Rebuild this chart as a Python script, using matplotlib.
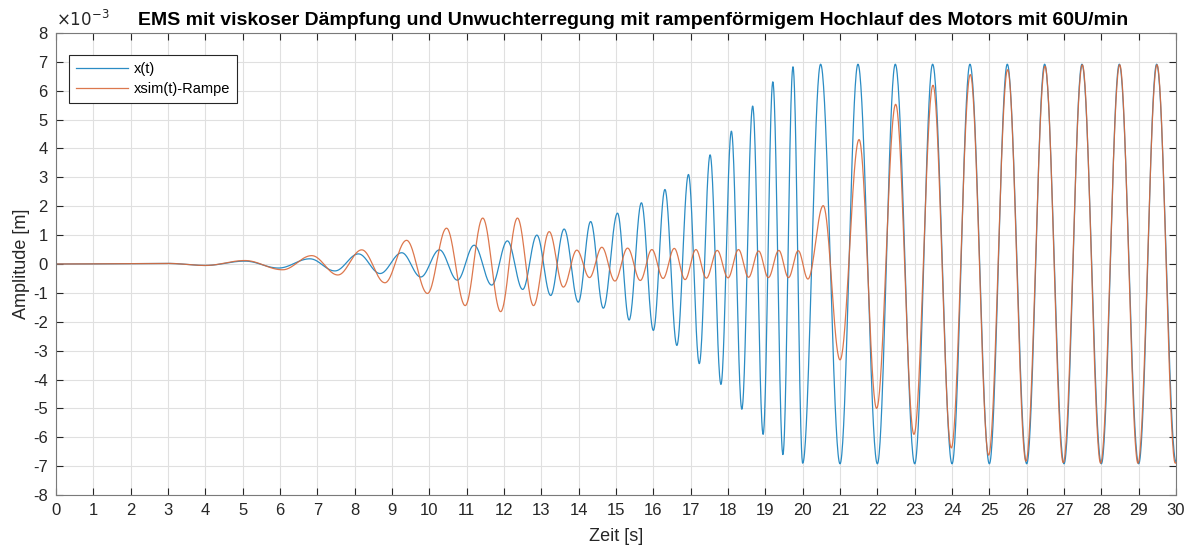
import matplotlib.pyplot as plt
import numpy as np

# extrema (time in s, amplitude in 1e-3 m)
t_x = [0, 3.0, 4.0, 5.06, 5.96, 6.8, 7.47, 8.1, 8.68, 9.26, 9.77, 10.27, 10.75, 11.2, 11.67,
       12.09, 12.5, 12.88, 13.25, 13.61, 13.99, 14.32, 14.66, 15.04, 15.35, 15.68, 16.0, 16.31,
       16.63, 16.94, 17.23, 17.52, 17.81, 18.09, 18.37, 18.66, 18.94, 19.2, 19.47, 19.74, 20.0,
       20.48, 21.0, 21.48, 22.0, 22.48, 23.0, 23.48, 24.0, 24.48, 25.0, 25.48, 26.0, 26.48,
       27.0, 27.48, 28.0, 28.48, 29.0, 29.48, 30.0]
x_vals = [0, 0.02, -0.05, 0.1, -0.14, 0.18, -0.24, 0.35, -0.33, 0.39, -0.45, 0.49, -0.56, 0.65,
          -0.73, 0.8, -0.88, 1.0, -1.09, 1.21, -1.32, 1.47, -1.53, 1.76, -1.94, 2.12, -2.3, 2.58,
          -2.82, 3.1, -3.45, 3.78, -4.17, 4.6, -5.03, 5.47, -5.9, 6.31, -6.6, 6.83, -6.9,
          6.92, -6.92, 6.92, -6.92, 6.92, -6.92, 6.92, -6.92, 6.92, -6.92, 6.92, -6.92, 6.92,
          -6.92, 6.92, -6.92, 6.92, -6.92, 6.92, -6.85]

t_sim = [0, 3.0, 4.0, 5.06, 6.07, 6.85, 7.55, 8.19, 8.81, 9.39, 9.95, 10.46, 10.96, 11.43, 11.91,
         12.36, 12.79, 13.21, 13.59, 13.95, 14.29, 14.62, 14.97, 15.31, 15.65, 15.96, 16.26,
         16.56, 16.85, 17.14, 17.42, 17.71, 18.0, 18.28, 18.55, 18.82, 19.08, 19.36, 19.62,
         19.88, 20.14, 20.55, 21.0, 21.51, 21.98, 22.49, 22.98, 23.49, 23.98, 24.49, 24.98,
         25.49, 25.98, 26.49, 26.98, 27.49, 27.98, 28.49, 28.98, 29.49, 29.98, 30.0]
sim_vals = [0, 0.02, -0.05, 0.12, -0.2, 0.29, -0.38, 0.49, -0.65, 0.82, -1.02, 1.24, -1.44, 1.59,
            -1.65, 1.59, -1.44, 1.12, -0.8, 0.48, -0.47, 0.58, -0.59, 0.55, -0.57, 0.5, -0.5,
            0.54, -0.54, 0.5, -0.49, 0.47, -0.48, 0.5, -0.46, 0.45, -0.47, 0.47, -0.47, 0.46,
            -0.52, 2.02, -3.32, 4.31, -5.0, 5.53, -5.9, 6.19, -6.37, 6.56, -6.62, 6.73, -6.83,
            6.85, -6.88, 6.9, -6.9, 6.9, -6.9, 6.9, -6.9, -6.88]

x_ticks = list(range(0, 31))
y_ticks = list(range(-8, 9))


def smooth(tk, vk, n=40):
    # half-cosine shape between neighbouring extrema
    ts, vs = [], []
    for i in range(len(tk) - 1):
        s = np.linspace(0, 1, n, endpoint=False)
        ts.append(tk[i] + (tk[i + 1] - tk[i]) * s)
        vs.append(vk[i] + (vk[i + 1] - vk[i]) * (1 - np.cos(np.pi * s)) / 2)
    ts.append([tk[-1]])
    vs.append([vk[-1]])
    return np.concatenate(ts), np.concatenate(vs) * 1e-3


plt.rcParams["font.family"] = ["Liberation Sans", "DejaVu Sans"]

fig = plt.figure(figsize=(11.89, 5.48), dpi=100)
ax = fig.add_axes([0.0471, 0.0967, 0.9420, 0.8431])

tx, yx = smooth(t_x, x_vals)
ts, ys = smooth(t_sim, sim_vals)
ax.plot(tx, yx, color="#2b8cc4", linewidth=0.9, label="x(t)")
ax.plot(ts, ys, color="#d9693a", linewidth=0.9, alpha=0.9, label="xsim(t)-Rampe")

ax.set_xlim(0, 30)
ax.set_ylim(-8e-3, 8e-3)
ax.set_xticks(x_ticks)
ax.set_yticks([v * 1e-3 for v in y_ticks])
ax.set_yticklabels([str(v) for v in y_ticks])
ax.tick_params(direction="in", top=True, right=True, length=5, width=0.8,
               labelsize=12, colors="#262626", pad=6)
ax.grid(True, color="#e0e0e0", linewidth=0.8)
for sp in ax.spines.values():
    sp.set_color("#7a7a7a")
    sp.set_linewidth(0.8)

ax.set_xlabel("Zeit [s]", fontsize=13, color="#262626", labelpad=7)
ax.set_ylabel("Amplitude [m]", fontsize=13, color="#262626", labelpad=2)
ax.set_title("EMS mit viskoser Dämpfung und Unwuchterregung mit rampenförmigem Hochlauf des Motors mit 60U/min",
             fontsize=14, fontweight="bold", pad=6, x=0.515)
ax.text(0.0, 1.008, r"$\times10^{-3}$", transform=ax.transAxes, fontsize=12,
        color="#262626", ha="left", va="bottom")

leg = ax.legend(loc="upper left", bbox_to_anchor=(0.0116, 0.952), fontsize=10.5,
                handlelength=3.6, handletextpad=0.4, fancybox=False, framealpha=1,
                edgecolor="#262626", borderaxespad=0, labelspacing=0.45, borderpad=0.45)
leg.get_frame().set_linewidth(0.8)

plt.savefig("out.png", dpi=100)
plt.close()
